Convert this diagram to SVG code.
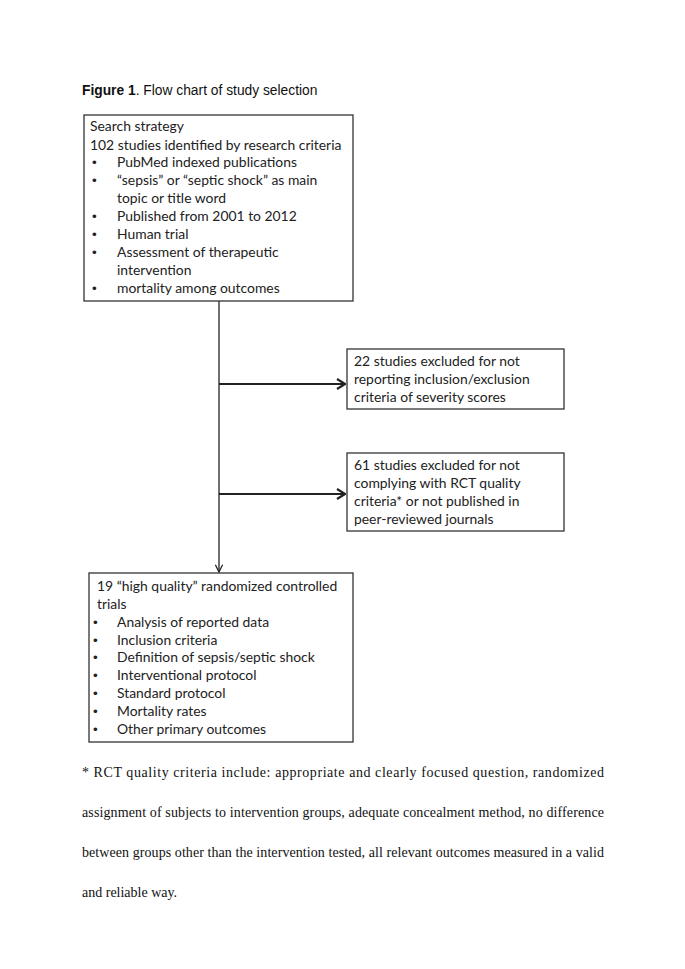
<svg xmlns="http://www.w3.org/2000/svg" width="685" height="969" viewBox="0 0 685 969">
<style>
.box{fill:#fff;stroke:#333;stroke-width:1.3}
.t{font-family:Lato,"Liberation Sans",sans-serif;font-size:13.9px;fill:#222}
.b{font-family:"Liberation Sans",sans-serif;font-size:13.5px;fill:#222}
.title{font-family:"Liberation Sans",Arial,sans-serif;font-size:13.8px;fill:#111}
.fn{font-family:"Liberation Serif","Times New Roman",serif;font-size:14px;fill:#111}
.c{stroke:#222;fill:none}
</style>
<defs>
<marker id="ah" viewBox="0 0 10 12" refX="9" refY="6" markerWidth="10" markerHeight="12" markerUnits="userSpaceOnUse" orient="auto">
<path d="M1,1 L9,6 L1,11" fill="none" stroke="#222" stroke-width="2.2"/>
</marker>
<marker id="ah2" viewBox="0 0 10 10" refX="9" refY="5" markerWidth="9" markerHeight="9" markerUnits="userSpaceOnUse" orient="auto">
<path d="M1,1 L9,5 L1,9" fill="none" stroke="#222" stroke-width="1.4"/>
</marker>
</defs>
<rect width="685" height="969" fill="#fff"/>
<text class="title" x="82" y="95"><tspan font-weight="bold">Figure 1</tspan>. Flow chart of study selection</text>
<g id="connectors">
<line class="c" x1="219" y1="301" x2="219" y2="572" stroke-width="1.3" marker-end="url(#ah2)"/>
<line class="c" x1="219" y1="384" x2="345" y2="384" stroke-width="2.2" marker-end="url(#ah)"/>
<line class="c" x1="219" y1="494" x2="345" y2="494" stroke-width="2.2" marker-end="url(#ah)"/>
</g>
<g id="search">
<rect class="box" x="84" y="115" width="269" height="186"/>
<text class="t" x="90" y="131">Search strategy</text>
<text class="t" x="90" y="150">102 studies identified by research criteria</text>
<text class="b" x="92" y="167">•</text><text class="t" x="117" y="167">PubMed indexed publications</text>
<text class="b" x="92" y="185">•</text><text class="t" x="117" y="185">“sepsis” or “septic shock” as main</text>
<text class="t" x="117" y="203">topic or title word</text>
<text class="b" x="92" y="221">•</text><text class="t" x="117" y="221">Published from 2001 to 2012</text>
<text class="b" x="92" y="239">•</text><text class="t" x="117" y="239">Human trial</text>
<text class="b" x="92" y="257">•</text><text class="t" x="117" y="257">Assessment of therapeutic</text>
<text class="t" x="117" y="275">intervention</text>
<text class="b" x="92" y="293">•</text><text class="t" x="117" y="293">mortality among outcomes</text>
</g>
<g id="excluded22">
<rect class="box" x="347" y="349" width="217" height="60"/>
<text class="t" x="354" y="366">22 studies excluded for not</text>
<text class="t" x="354" y="384">reporting inclusion/exclusion</text>
<text class="t" x="354" y="402">criteria of severity scores</text>
</g>
<g id="excluded61">
<rect class="box" x="347" y="453" width="217" height="78"/>
<text class="t" x="354" y="470">61 studies excluded for not</text>
<text class="t" x="354" y="488">complying with RCT quality</text>
<text class="t" x="354" y="506">criteria* or not published in</text>
<text class="t" x="354" y="524">peer-reviewed journals</text>
</g>
<g id="rct">
<rect class="box" x="89" y="573" width="264" height="169"/>
<text class="t" x="97" y="591">19 “high quality” randomized controlled</text>
<text class="t" x="97" y="609">trials</text>
<text class="b" x="93" y="627">•</text><text class="t" x="117" y="627">Analysis of reported data</text>
<text class="b" x="93" y="645">•</text><text class="t" x="117" y="645">Inclusion criteria</text>
<text class="b" x="93" y="662">•</text><text class="t" x="117" y="662">Definition of sepsis/septic shock</text>
<text class="b" x="93" y="680">•</text><text class="t" x="117" y="680">Interventional protocol</text>
<text class="b" x="93" y="698">•</text><text class="t" x="117" y="698">Standard protocol</text>
<text class="b" x="93" y="716">•</text><text class="t" x="117" y="716">Mortality rates</text>
<text class="b" x="93" y="734">•</text><text class="t" x="117" y="734">Other primary outcomes</text>
</g>
<g id="footnote">
<text class="fn" x="82" y="777" textLength="522" lengthAdjust="spacing">* RCT quality criteria include: appropriate and clearly focused question, randomized</text>
<text class="fn" x="82" y="817" textLength="522" lengthAdjust="spacing">assignment of subjects to intervention groups, adequate concealment method, no difference</text>
<text class="fn" x="82" y="857" textLength="522" lengthAdjust="spacing">between groups other than the intervention tested, all relevant outcomes measured in a valid</text>
<text class="fn" x="82" y="897">and reliable way.</text>
</g>
</svg>
